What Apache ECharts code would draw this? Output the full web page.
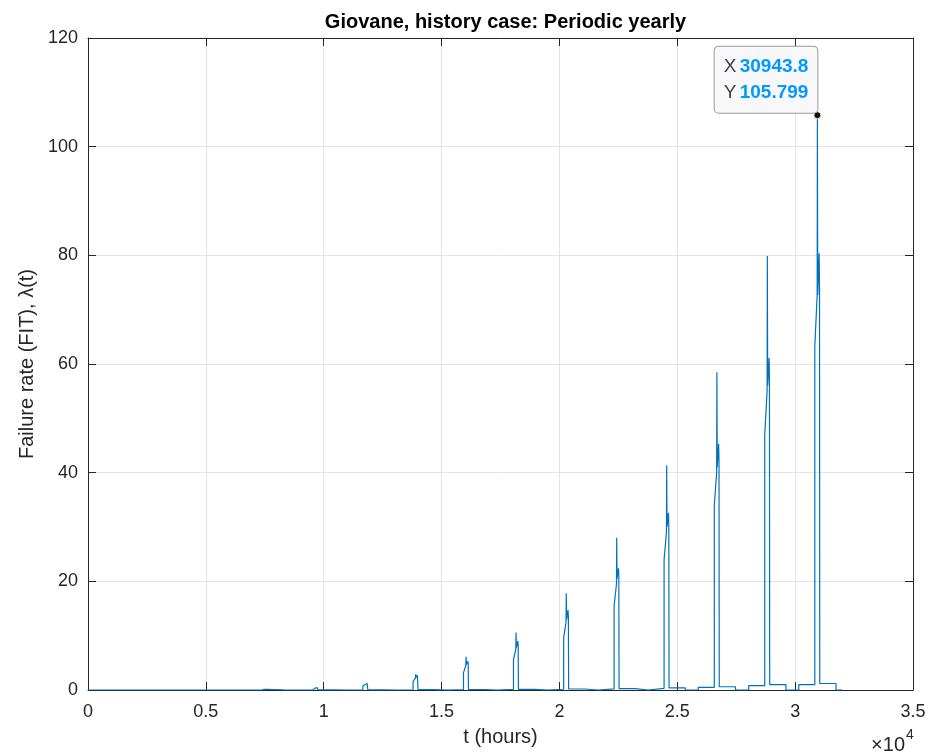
<!DOCTYPE html>
<html>
<head>
<meta charset="utf-8">
<script src="https://cdn.jsdelivr.net/npm/echarts@6/dist/echarts.min.js"></script>
<style>
html,body{margin:0;padding:0;background:#fff;}
#chart{width:930px;height:752px;}
</style>
</head>
<body>
<div id="chart"></div>
<script>
// ---- data ----
const xTicks = [0, 0.5, 1, 1.5, 2, 2.5, 3, 3.5];           // x tick labels (×10^4 hours)
const yTicks = [0, 20, 40, 60, 80, 100, 120];
// hour at which each yearly burst rises
const riseHours   = [7400, 9540, 11660, 13790, 15930, 18050, 20180, 22320, 24440, 26570, 28710, 30834];
// value reached by the vertical rise
const riseTop     = [0.08, 0.25, 0.75, 1.6, 3.2, 5.6, 9.6, 15.5, 24, 34, 47, 63.2];
// value at the end of the slanted climb
const climbTop    = [0.1, 0.35, 1.0, 2.2, 4.5, 7.5, 12.5, 19.5, 29, 40, 55, 72.7];
// first (highest) peak
const peakMain    = [0.15, 0.5, 1.3, 2.9, 6.1, 10.6, 17.8, 28.0, 41.3, 58.5, 79.9, 105.799];
// dip after the first peak
const dipVal      = [0.1, 0.38, 1.05, 2.3, 4.7, 7.8, 13.0, 20.5, 30.0, 41.0, 56.0, 72.7];
// second peak
const peakSecond  = [0.13, 0.45, 1.2, 2.7, 5.3, 9.0, 14.7, 22.4, 32.6, 45.3, 61.1, 80.4];
// value just before the fall
const fallFrom    = [0.11, 0.4, 1.1, 2.4, 4.8, 8.2, 13.5, 20.8, 30.5, 42.0, 57.0, 74.0];
// low plateau level before and after each burst
const plateauPre  = [0.01, 0.02, 0.03, 0.05, 0.07, 0.1, 0.14, 0.2, 0.3, 0.5, 0.8, 1.0];
const plateauPost = [0.01, 0.02, 0.04, 0.06, 0.09, 0.12, 0.18, 0.27, 0.4, 0.6, 1.0, 1.2];
// hours relative to the rise: plateau start, climb end, peak, dip, 2nd peak, fall start, fall, plateau end
const phaseHours  = [-680, 100, 110, 125, 185, 200, 210, 900];
const endHour = 32000;
const tip = {x: 30943.8, y: 105.799};

// ---- build the polyline ----
const pts = [[0, 0]];
for (let i = 0; i < riseHours.length; i++) {
  const r = riseHours[i];
  pts.push([r + phaseHours[0], 0]);
  pts.push([r + phaseHours[0], plateauPre[i]]);
  pts.push([r, plateauPre[i]]);
  pts.push([r, riseTop[i]]);
  pts.push([r + phaseHours[1], climbTop[i]]);
  pts.push([r + phaseHours[2], peakMain[i]]);
  pts.push([r + phaseHours[3], dipVal[i]]);
  pts.push([r + phaseHours[4], peakSecond[i]]);
  pts.push([r + phaseHours[5], fallFrom[i]]);
  pts.push([r + phaseHours[6], fallFrom[i]]);
  pts.push([r + phaseHours[6], plateauPost[i]]);
  pts.push([r + phaseHours[7], plateauPost[i]]);
  pts.push([r + phaseHours[7], 0]);
}
pts.push([endHour, 0]);

const axisCol = '#262626';
const font = 'Liberation Sans, Arial, Helvetica, sans-serif';

const chart = echarts.init(document.getElementById('chart'), null, {renderer: 'canvas'});
const baseX = {
  type: 'value', min: 0, max: 35000, interval: 5000,
  axisLine: {show: true, onZero: false, lineStyle: {color: axisCol, width: 1}},
  axisTick: {show: true, inside: true, length: 8, lineStyle: {color: axisCol}},
};
const baseY = {
  type: 'value', min: 0, max: 120, interval: 20,
  axisLine: {show: true, onZero: false, lineStyle: {color: axisCol, width: 1}},
  axisTick: {show: true, inside: true, length: 8, lineStyle: {color: axisCol}},
};
chart.setOption({
  animation: false,
  backgroundColor: '#ffffff',
  title: {
    text: 'Giovane, history case: Periodic yearly',
    left: 500.5, top: 7, textAlign: 'center',
    textStyle: {fontFamily: font, fontSize: 20, fontWeight: 'bold', color: '#000'}
  },
  grid: {left: 88, right: 17, top: 38, bottom: 62, containLabel: false},
  xAxis: [
    Object.assign({}, baseX, {
      position: 'bottom',
      name: 't (hours)', nameLocation: 'middle', nameGap: 37,
      nameTextStyle: {fontFamily: font, fontSize: 20, color: axisCol},
      axisLabel: {
        show: true, margin: 13, fontFamily: font, fontSize: 18, color: axisCol,
        formatter: v => { const t = xTicks.find(k => Math.abs(k * 10000 - v) < 1); return t === undefined ? '' : String(t); }
      },
      splitLine: {show: true, lineStyle: {color: '#e3e3e3', width: 1}}
    }),
    Object.assign({}, baseX, {position: 'top', axisLabel: {show: false}, splitLine: {show: false}})
  ],
  yAxis: [
    Object.assign({}, baseY, {
      position: 'left',
      name: 'Failure rate (FIT), λ(t)', nameLocation: 'middle', nameGap: 48,
      nameTextStyle: {fontFamily: font, fontSize: 20, color: axisCol},
      axisLabel: {
        show: true, margin: 10, fontFamily: font, fontSize: 18, color: axisCol,
        formatter: v => yTicks.includes(v) ? String(v) : ''
      },
      splitLine: {show: true, lineStyle: {color: '#e3e3e3', width: 1}}
    }),
    Object.assign({}, baseY, {position: 'right', axisLabel: {show: false}, splitLine: {show: false}})
  ],
  series: [{
    type: 'line',
    xAxisIndex: 0, yAxisIndex: 0,
    data: pts,
    showSymbol: false,
    symbol: 'none',
    sampling: null,
    lineStyle: {color: '#0072BD', width: 1.2},
    z: 3,
    markPoint: {
      symbol: 'circle', symbolSize: 7,
      itemStyle: {color: '#111111', borderColor: '#f5f0a0', borderWidth: 1},
      data: [{coord: [tip.x, tip.y], value: tip.y}],
      label: {
        show: true,
        position: [4, 1.5],
        align: 'right', verticalAlign: 'bottom',
        backgroundColor: '#f8f8fa',
        borderColor: '#9a9a9a', borderWidth: 1, borderRadius: 4,
        padding: [7, 9, 7, 9],
        lineHeight: 26,
        formatter: () => '{k|X} {v|' + tip.x.toFixed(1) + '}\n{k|Y} {v|' + tip.y.toFixed(3) + '}',
        rich: {
          k: {fontFamily: font, fontSize: 19, color: '#404040', lineHeight: 26},
          v: {fontFamily: font, fontSize: 19, fontWeight: 'bold', color: '#0099ff', lineHeight: 26}
        }
      }
    }
  }],
  graphic: [
    {type: 'text', x: 905, y: 745, style: {text: '×10', align: 'right', verticalAlign: 'middle', fontFamily: font, fontSize: 20, fill: axisCol}},
    {type: 'text', x: 906, y: 735, style: {text: '4', align: 'left', verticalAlign: 'middle', fontFamily: font, fontSize: 14, fill: axisCol}}
  ]
});
</script>
</body>
</html>
